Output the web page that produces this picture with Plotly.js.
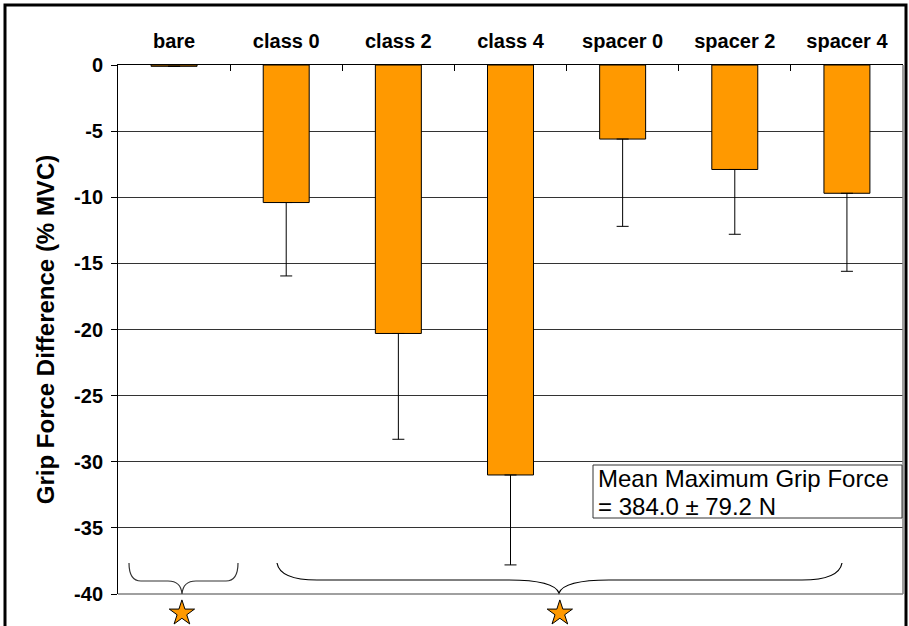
<!DOCTYPE html>
<html>
<head>
<meta charset="utf-8">
<script src="https://cdn.plot.ly/plotly-3.0.1.min.js"></script>
<style>html,body{margin:0;padding:0;background:#fff;}#chart{width:909px;height:626px;}</style>
</head>
<body>
<div id="chart"></div>
<script>
const categories = ["bare", "class 0", "class 2", "class 4", "spacer 0", "spacer 2", "spacer 4"];
const meanDiff = [-0.1, -10.4, -20.3, -31.0, -5.6, -7.9, -9.7];
const errMinus = [0.0, 5.55, 8.0, 6.8, 6.6, 4.9, 5.9];
const yTicks = [0, -5, -10, -15, -20, -25, -30, -35, -40];
// star positions: brace midpoints in category-index units
const starPos = [0.07, 3.44];
const starLevel = [0.4, 0.4];
const noteLines = ["Mean Maximum Grip Force", "= 384.0 ± 79.2 N"];

const W = 909, H = 626;
const L = 118, R = 903, T = 65, B = 594, PB = 626;
const px = v => (v - L) / (R - L);
const py = v => (PB - v) / (PB - T);

const FONT = "Arial, 'Liberation Sans', sans-serif";

const bars = {
  type: "bar", x: categories, y: meanDiff, width: 0.41,
  xaxis: "x", yaxis: "y",
  marker: {color: "#FF9900", line: {color: "#000", width: 1}},
  error_y: {type: "data", symmetric: false, array: errMinus.map(() => 0), arrayminus: errMinus,
            color: "#000", thickness: 1, width: 6},
  hoverinfo: "x+y"
};
const stars = {
  type: "scatter", mode: "markers", x: starPos, y: starLevel,
  xaxis: "x2", yaxis: "y2", cliponaxis: false,
  marker: {symbol: "star", size: 19, color: "#FF9900", line: {color: "#000", width: 1}},
  hoverinfo: "skip"
};

function braceBig(x0, x1, xm, yTop, yMid, yTip) {
  const X = v => px(v).toFixed(5), Y = v => py(v).toFixed(5);
  return `M ${X(x0)} ${Y(yTop)} Q ${X(x0 + 3)} ${Y(yMid)} ${X(x0 + 40)} ${Y(yMid)} ` +
         `L ${X(xm - 50)} ${Y(yMid)} Q ${X(xm - 5)} ${Y(yMid)} ${X(xm)} ${Y(yTip)} ` +
         `Q ${X(xm + 5)} ${Y(yMid)} ${X(xm + 50)} ${Y(yMid)} ` +
         `L ${X(x1 - 40)} ${Y(yMid)} Q ${X(x1 - 3)} ${Y(yMid)} ${X(x1)} ${Y(yTop)}`;
}
function braceSmall(x0, x1, xm, yTop, yMid, yTip) {
  const X = v => px(v).toFixed(5), Y = v => py(v).toFixed(5);
  return `M ${X(x0)} ${Y(yTop)} Q ${X(x0)} ${Y(yMid)} ${X(x0 + 12)} ${Y(yMid)} ` +
         `L ${X(xm - 14)} ${Y(yMid)} Q ${X(xm - 1)} ${Y(yMid)} ${X(xm)} ${Y(yTip)} ` +
         `Q ${X(xm + 1)} ${Y(yMid)} ${X(xm + 14)} ${Y(yMid)} ` +
         `L ${X(x1 - 12)} ${Y(yMid)} Q ${X(x1)} ${Y(yMid)} ${X(x1)} ${Y(yTop)}`;
}

const layout = {
  width: W, height: H,
  margin: {l: L, r: W - R, t: T, b: H - PB},
  paper_bgcolor: "#fff", plot_bgcolor: "rgba(0,0,0,0)",
  showlegend: false,
  font: {family: FONT, color: "#000"},
  xaxis: {
    type: "category", side: "top", anchor: "y", showline: true, linecolor: "#000", linewidth: 1,
    ticks: "inside", ticklen: 6, tickcolor: "#000", tickson: "boundaries", ticklabelstandoff: 8,
    tickfont: {family: FONT, size: 20, color: "#000", weight: "bold"},
    showgrid: false, zeroline: false, fixedrange: true
  },
  xaxis2: {
    range: [-0.5, categories.length - 0.5], anchor: "y2", overlaying: "x",
    visible: false, showgrid: false, zeroline: false, fixedrange: true
  },
  yaxis: {
    domain: [py(B), 1],
    range: [-40, 0], tickvals: yTicks, ticktext: yTicks.map(String),
    showline: true, linecolor: "#000", linewidth: 1,
    ticks: "outside", ticklen: 6, tickcolor: "#000", ticklabelstandoff: 4,
    tickfont: {family: FONT, size: 20, color: "#000", weight: "bold"},
    showgrid: true, gridcolor: "#333", gridwidth: 1, zeroline: false,
    title: {text: "Grip Force Difference (% MVC)", standoff: 12,
            font: {family: FONT, size: 24, color: "#000", weight: "bold"}},
    fixedrange: true
  },
  yaxis2: {
    domain: [0, py(B)], range: [0, 1], anchor: "x2",
    visible: false, showgrid: false, zeroline: false, fixedrange: true
  },
  shapes: [
    {type: "line", xref: "paper", yref: "paper", x0: 1, x1: 1, y0: py(B), y1: 1, line: {color: "#808080", width: 1.5}},
    {type: "line", xref: "paper", yref: "paper", x0: 0, x1: 1, y0: py(B), y1: py(B), line: {color: "#808080", width: 1.5}},
    {type: "rect", xref: "paper", yref: "paper", x0: px(5), x1: px(906), y0: py(5), y1: py(640),
     line: {color: "#000", width: 3}},
    {type: "path", xref: "paper", yref: "paper", path: braceSmall(129, 238, 182, 563, 581, 594),
     line: {color: "#333", width: 1.2}},
    {type: "path", xref: "paper", yref: "paper", path: braceBig(277, 842, 559, 563, 580, 593),
     line: {color: "#000", width: 1.2}},
    {type: "rect", xref: "paper", yref: "paper", x0: px(593), x1: px(902), y0: py(465), y1: py(518),
     fillcolor: "#fff", line: {color: "#333", width: 1}, layer: "above"}
  ],
  annotations: noteLines.map((t, i) => ({
    xref: "paper", yref: "paper", x: px(596), y: py(478 + 28 * i), xanchor: "left", yanchor: "middle",
    text: t, align: "left", showarrow: false,
    font: {family: FONT, size: 24, color: "#000"}
  }))
};

Plotly.newPlot("chart", [bars, stars], layout, {displayModeBar: false, staticPlot: true});
</script>
</body>
</html>
